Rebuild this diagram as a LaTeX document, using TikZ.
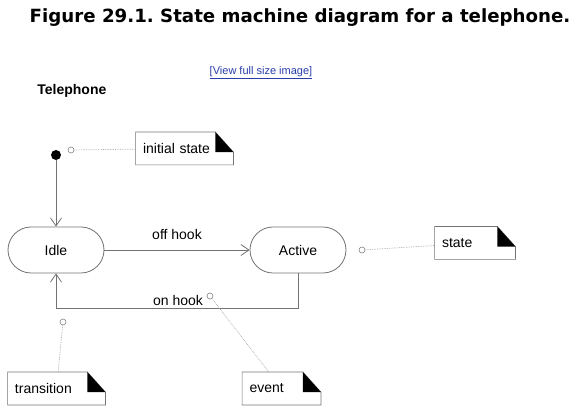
\documentclass[tikz,border=0pt]{standalone}
\usepackage{fontspec}
\setmainfont{Liberation Sans}
\newfontfamily\headfont{DejaVu Sans}
\usetikzlibrary{arrows.meta}
\definecolor{linkblue}{RGB}{40,60,170}
\frenchspacing

\begin{document}
\begin{tikzpicture}[x=1pt,y=-1pt,line width=.8pt,font=\fontsize{14}{16}\selectfont,
  st/.style={draw=black!55,rounded corners=23pt,minimum width=96pt,minimum height=46pt,inner sep=0pt},
  note/.style={text width=#1,inner xsep=7pt,minimum height=32pt,align=left},
  pin/.style={circle,draw=black!50,line width=.6pt,minimum size=6pt,inner sep=0pt},
  trans/.style={draw=black!55,-{Straight Barb[length=8pt,width=11pt]}},
  link/.style={draw=black!35,line width=.7pt,densely dotted}]
\useasboundingbox (0,0) rectangle (587,414);
\node[font=\headfont\bfseries\fontsize{18.2}{20}\selectfont] (title) at (300,18) {Figure 29.1. State machine diagram for a telephone.};
\node[font=\fontsize{11}{13}\selectfont,text=linkblue] (view) at (261,73) {\underline{[View full size image]}};
\node[font=\fontsize{14}{16}\selectfont\bfseries,anchor=west,inner sep=0pt] (tel) at (37,91) {Telephone};
\node[circle,fill,minimum size=10pt,inner sep=0pt] (init) at (56,155) {};
\node[st] (idle) at (56,250) {Idle};
\node[st] (active) at (298,250) {Active};
\node[note=83pt] (ninit) at (184.5,148.5) {initial state};
\node[note=66pt] (nstate) at (475,243) {state};
\node[note=83pt] (ntrans) at (56.5,388.5) {transition};
\node[note=64pt] (nevent) at (281.5,388.5) {event};
\foreach \n in {ninit,nstate,ntrans,nevent}{
  \draw[black!55,line width=.7pt] ([xshift=-18pt]\n.north east) -- (\n.north west) -- (\n.south west) -- (\n.south east) -- ([yshift=-20pt]\n.north east) -- cycle;
  \fill ([xshift=-18pt]\n.north east) -- ([yshift=-20pt]\n.north east) -- ([xshift=-18pt,yshift=-20pt]\n.north east) -- cycle;
}
\node[pin] (cinit) at (71,150) {};
\node[pin] (cstate) at (362,250) {};
\node[pin] (cevent) at (210,296) {};
\node[pin] (ctrans) at (63,322) {};
\draw[trans] (init) -- (idle);
\draw[trans] (idle) -- (active);
\draw[trans] (active.south) |- ([yshift=-35pt]idle.south) -- (idle.south);
\node (off) at (177,234) {off hook};
\node (on) at (178,300) {on hook};
\draw[link] (cinit) -- (ninit);
\draw[link] (cstate) -- (nstate);
\draw[link] (cevent) -- (nevent);
\draw[link] (ctrans) -- (ntrans);
\end{tikzpicture}
\end{document}
